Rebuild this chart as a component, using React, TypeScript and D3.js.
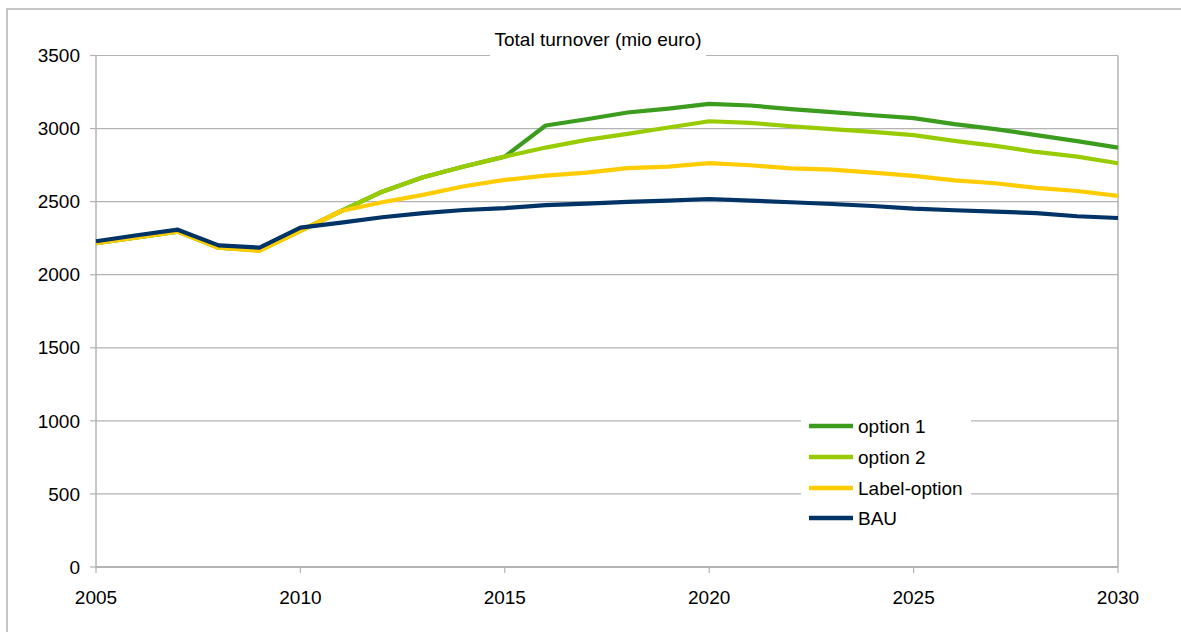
import React from "react";
import * as d3 from "d3";

const years = d3.range(2005, 2031);
const option1 = [2215, 2256, 2295, 2185, 2167, 2300, 2436, 2568, 2667, 2740, 2808, 3021, 3064, 3110, 3137, 3169, 3158, 3133, 3112, 3091, 3071, 3030, 2996, 2955, 2914, 2870];
const option2 = [2215, 2256, 2295, 2185, 2167, 2300, 2436, 2568, 2667, 2740, 2808, 2870, 2923, 2964, 3007, 3050, 3039, 3016, 2996, 2977, 2955, 2916, 2882, 2840, 2808, 2763];
const labelOption = [2215, 2256, 2295, 2185, 2163, 2300, 2436, 2496, 2546, 2605, 2649, 2678, 2699, 2729, 2740, 2763, 2749, 2728, 2719, 2699, 2676, 2646, 2626, 2594, 2573, 2539];
const bau = [2229, 2270, 2308, 2201, 2185, 2322, 2356, 2393, 2421, 2443, 2456, 2476, 2487, 2498, 2507, 2518, 2507, 2496, 2484, 2470, 2452, 2441, 2432, 2421, 2400, 2388];
const yTicks = [0, 500, 1000, 1500, 2000, 2500, 3000, 3500];
const xTicks = [2005, 2010, 2015, 2020, 2025, 2030];
const seriesNames = ["option 1", "option 2", "Label-option", "BAU"];
const seriesColors = ["#3c9c1e", "#99cc00", "#ffcc00", "#003366"];
const seriesValues = [option1, option2, labelOption, bau];
const title = "Total turnover (mio euro)";

export default function App() {
  const x = d3.scaleLinear().domain([2005, 2030]).range([96, 1118]);
  const y = d3.scaleLinear().domain([0, 3500]).range([567, 55.5]);
  const line = d3
    .line<number>()
    .x((_, i) => x(years[i]))
    .y((d) => y(d));
  const grid = "#b3b3b3";
  const font = "'Liberation Sans', Arial, sans-serif";
  const fs = 19;
  const legendY = [426, 457, 488, 518];

  return (
    <svg
      width={1181}
      height={632}
      style={{ position: "absolute", left: 0, top: 0, background: "#fff" }}
      fontFamily={font}
    >
      <rect x={0} y={0} width={1181} height={632} fill="#fff" />
      {/* outer frame */}
      <rect x={7} y={9} width={1200} height={700} fill="none" stroke={grid} strokeWidth={1.5} />
      {/* gridlines */}
      {yTicks.map((t) => (
        <line key={"g" + t} x1={x(2005)} x2={x(2030)} y1={y(t)} y2={y(t)} stroke={grid} strokeWidth={1.2} />
      ))}
      {/* y ticks */}
      {yTicks.map((t) => (
        <line key={"yt" + t} x1={x(2005) - 6} x2={x(2005)} y1={y(t)} y2={y(t)} stroke={grid} strokeWidth={1.2} />
      ))}
      {/* x ticks */}
      {xTicks.map((t) => (
        <line key={"xt" + t} x1={x(t)} x2={x(t)} y1={y(0)} y2={y(0) + 6} stroke={grid} strokeWidth={1.2} />
      ))}
      {/* axis lines */}
      <line x1={x(2005)} x2={x(2005)} y1={y(3500)} y2={y(0)} stroke={grid} strokeWidth={1.5} />
      <line x1={x(2030)} x2={x(2030)} y1={y(3500)} y2={y(0)} stroke={grid} strokeWidth={1.5} />
      <line x1={x(2005)} x2={x(2030)} y1={y(0)} y2={y(0)} stroke={grid} strokeWidth={1.8} />
      {/* y labels */}
      {yTicks.map((t) => (
        <text key={"yl" + t} x={80} y={y(t)} dy="0.35em" textAnchor="end" fontSize={fs} fill="#000">
          {t}
        </text>
      ))}
      {/* x labels */}
      {xTicks.map((t) => (
        <text key={"xl" + t} x={x(t)} y={597} dy="0.35em" textAnchor="middle" fontSize={fs} fill="#000">
          {t}
        </text>
      ))}
      {/* series */}
      {seriesValues.map((vals, i) => (
        <path
          key={seriesNames[i]}
          d={line(vals) || ""}
          fill="none"
          stroke={seriesColors[i]}
          strokeWidth={4.2}
          strokeLinejoin="round"
        />
      ))}
      {/* title */}
      <rect x={490} y={24} width={216} height={36} fill="#fff" />
      <text x={598} y={45.5} textAnchor="middle" fontSize={19} fill="#000">
        {title}
      </text>
      {/* legend */}
      <rect x={801} y={406} width={170} height={130} fill="#fff" />
      {seriesNames.map((n, i) => (
        <g key={"lg" + n}>
          <line x1={809} x2={853} y1={legendY[i]} y2={legendY[i]} stroke={seriesColors[i]} strokeWidth={4.5} />
          <text x={858} y={legendY[i]} dy="0.35em" fontSize={fs} fill="#000">
            {n}
          </text>
        </g>
      ))}
    </svg>
  );
}
